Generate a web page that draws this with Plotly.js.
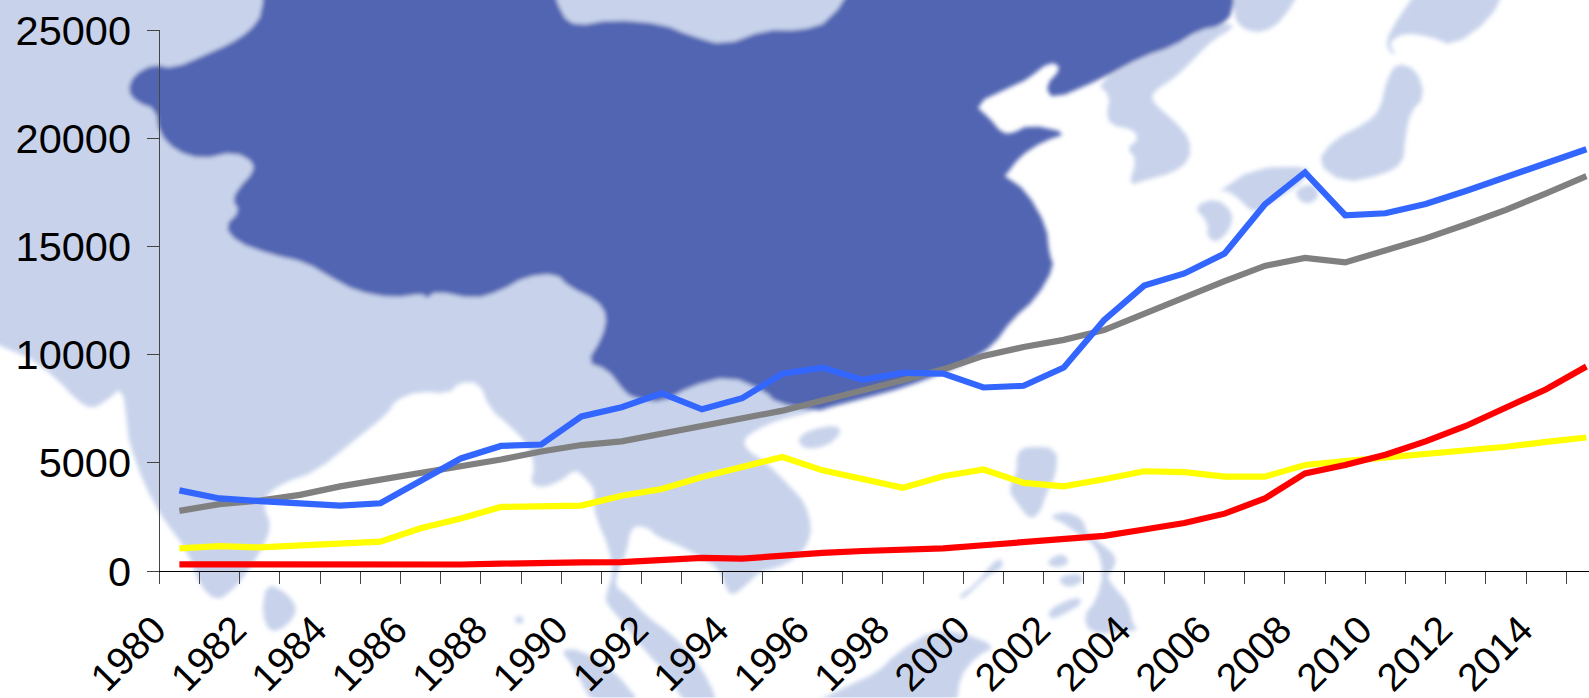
<!DOCTYPE html>
<html>
<head>
<meta charset="utf-8">
<script src="https://cdn.plot.ly/plotly-3.0.1.min.js"></script>
<style>html,body{margin:0;padding:0;background:#fff;overflow:hidden}#chart{width:1589px;height:698px}</style>
</head>
<body>
<div id="chart"></div>
<script>
var years = [1980,1981,1982,1983,1984,1985,1986,1987,1988,1989,1990,1991,1992,1993,1994,1995,1996,1997,1998,1999,2000,2001,2002,2003,2004,2005,2006,2007,2008,2009,2010,2011,2012,2013,2014,2015];
var blueValues = [3725,3354,3230,3150,3025,3128,4178,5200,5780,5845,7140,7570,8210,7470,7985,9120,9400,8830,9160,9120,8480,8560,9400,11590,13190,13750,14670,16940,18420,16440,16530,16960,17560,18210,18850,19490];
var grayValues = [2780,3090,3250,3520,3910,4220,4490,4790,5150,5520,5820,5990,6340,6690,7100,7410,7880,8335,8810,9320,9940,10350,10680,11130,11900,12660,13400,14100,14470,14260,14780,15370,16010,16690,17450,18250];
var yellowValues = [1050,1150,1090,1170,1255,1360,1975,2430,2960,2960,3025,3480,3790,4340,4800,5270,4650,4280,3850,4380,4690,4075,3910,4240,4610,4570,4360,4360,4900,5080,5250,5370,5540,5740,5970,6170];
var redValues = [310,300,285,290,305,300,290,300,340,400,395,410,490,610,570,740,840,925,990,1050,1190,1320,1440,1625,1915,2220,2650,3350,4510,4900,5370,5990,6700,7530,8400,9450];
var labelYears = [1980,1982,1984,1986,1988,1990,1992,1994,1996,1998,2000,2002,2004,2006,2008,2010,2012,2014];
var yTicks = [0,5000,10000,15000,20000,25000];

// Background map outlines, each traced in the frame of one crop of the picture
function L(s){return conv(s,0,0,0.5102,0.4452);}
function R(s){return conv(s,800,0,0.5033,0.4452);}
function A(s){return conv(s,800,400,1/3,1/3);}
function B(s){return conv(s,480,400,1/3,1/3);}
function C(s){return conv(s,1000,0,1/3,1/3);}
function D(s){return conv(s,0,440,1/3,1/3);}
function P(s){return conv(s,0,0,1,1);}
function conv(s,x0,y0,sx,sy){
  return s.trim().split(/\s+/).map(function(p){var a=p.split(",");return [x0+a[0]*sx,y0+a[1]*sy];});
}
var lightMain = [].concat(
  P("-100,-100 900,-100 900,300 817,408"),
  B("1000,35 900,60 830,90 790,120 800,150 860,190 930,260 975,310 995,380 985,430 950,475 890,505 840,515 795,560 755,590 735,560 720,510 650,465 590,435 530,410 505,385 470,378 450,395 440,460 415,510 405,560 440,585 500,650 570,700 640,770 690,850 715,920 620,920 560,820 500,760 430,670 378,610 378,585 400,520 385,440 350,360 340,310 345,270 310,230 285,210 240,245 185,265 150,250 165,200 140,130 80,70 30,30"),
  L("1010,970 960,920 940,860 900,860 880,885 820,880 775,900 760,930 700,985"),
  D("948,96 850,130 800,165 790,200 815,260 785,330 740,400 700,450 650,485 600,440 560,330 490,240 430,130 385,0"),
  L("250,960 240,870 210,900 180,920 150,900 110,850 40,790 -200,700")
);
var lightIslands = [
  D("800,430 860,460 895,510 860,560 810,580 785,520"),
  B("106,650 130,650 130,672 106,672"),
  B("240,750 300,750 400,810 490,920 340,920 280,800"),
  B("950,120 990,90 1070,75 1085,100 1040,140 975,150"),
  C("700,-60 920,-60 850,60 790,100 730,90 700,50"),
  C("690,70 620,80 530,135 430,170 290,250 330,290 320,340 330,375 400,390 415,420 380,445 410,480 385,560 440,540 520,520 570,480 570,420 530,370 460,310 455,280 530,230 580,180 640,120 700,85"),
  C("1190,190 1250,210 1275,290 1230,340 1215,420 1210,490 1150,525 1030,550 950,490 1000,420 1100,370 1140,330 1160,240"),
  C("650,580 760,505 930,500 915,540 860,580 810,610 760,640 730,610 680,570"),
  C("885,570 940,550 960,590 925,615 895,600"),
  C("580,620 650,595 700,640 690,690 650,730 620,710 625,670"),
  C("1260,-40 1520,-40 1470,60 1360,140 1290,110 1210,100 1165,130 1190,170 1160,150 1165,100"),
  A("650,160 680,140 770,145 770,220 740,280 720,340 690,360 650,310 625,270 650,220"),
  A("745,350 800,335 850,360 860,400 900,430 950,470 940,510 920,530 940,560 985,610 1000,680 1020,690 950,700 870,700 850,650 890,600 910,520 890,440 830,400 790,370"),
  A("745,480 790,460 810,490 770,505 745,495"),
  A("780,530 840,520 850,545 810,565 780,550"),
  A("745,630 830,590 850,610 780,650 750,660"),
  A("595,470 615,500 560,530 490,600 475,590 520,560"),
  A("20,920 140,860 230,820 290,760 400,690 490,700 590,740 530,770 480,830 470,920")
];
var darkChina = [].concat(
  L("515,-60 515,30 490,70 450,100 410,120 340,155 300,145 262,170 250,205 270,232 305,245 312,300 345,340 395,358 460,342 497,365 495,390 470,420 455,450 470,475 440,510 465,545 530,572 600,590 650,625 700,655 770,670 830,660 835,672 855,655 930,672 980,655 1030,622 1090,615 1115,645 1170,675 1190,710 1180,760 1150,815 1190,830 1220,875 1240,895 1300,905 1350,870 1430,845 1500,880 1520,905"),
  R("35,925 60,915 130,895 210,870 280,840 340,810 385,775 420,720 470,670 505,600 495,570 490,510 450,430 405,395"),
  C("15,530 60,470 130,425 205,400 90,375 30,405 0,395"),
  R("380,270 345,235 430,190"),
  C("80,240 150,185 185,205 135,260 160,300 300,240 430,170 520,140 600,90 660,80 700,40 700,-60"),
  R("120,-60 60,50 0,70"),
  L("1500,68 1420,103 1350,80 1300,55 1200,45 1130,60 1100,35 1075,-60")
);

var LIGHT = "#C8D3EB", DARK = "#5165B2";
function smooth(pts){
  var out=[], n=pts.length;
  for(var i=0;i<n;i++){
    var a=pts[i], b=pts[(i+1)%n];
    out.push([a[0]*0.75+b[0]*0.25,a[1]*0.75+b[1]*0.25]);
    out.push([a[0]*0.25+b[0]*0.75,a[1]*0.25+b[1]*0.75]);
  }
  return out;
}
function poly(pts, fill){
  var p = smooth(pts).map(function(q){return q[0].toFixed(1)+","+q[1].toFixed(1);}).join(" ");
  return '<polygon points="'+p+'" fill="'+fill+'"/>';
}
var svg = '<svg xmlns="http://www.w3.org/2000/svg" width="1589" height="698" viewBox="0 0 1589 698">'
 + '<defs><filter id="b" filterUnits="userSpaceOnUse" x="-50" y="-50" width="1700" height="800"><feGaussianBlur stdDeviation="2.1"/></filter></defs>'
 + '<rect width="1589" height="698" fill="#fff"/><g filter="url(#b)">'
 + poly(lightMain,LIGHT)
 + lightIslands.map(function(p){return poly(p,LIGHT);}).join('')
 + poly(darkChina,DARK)
 + '</g></svg>';
var mapSource = "data:image/svg+xml;charset=utf-8," + encodeURIComponent(svg);

// Plot area starts at the end of the y ticks; the y axis itself stands at the first category edge
var AXIS_X = 159.3, ML = 147, MT = 30.4, PW = 1589 - ML, PH = 541, yearPx = 40.2;
var xStart = 1979.5 - (AXIS_X - ML)/yearPx;
function line(vals, color, name){
  return {x: years, y: vals, name: name, type:"scatter", mode:"lines", cliponaxis:false,
          line:{color:color, width:6.2, shape:"linear"}, hoverinfo:"x+y"};
}
var boundaries = years.map(function(y){return y-0.5;});
var yFont = {family:'"Liberation Sans", Arial, sans-serif', size:41.5, color:"#000"};
var xFont = {family:'"Liberation Sans", Arial, sans-serif', size:39, color:"#000"};
Plotly.newPlot("chart", [
  line(grayValues,"#808080","gray"),
  line(yellowValues,"#FFFF00","yellow"),
  line(redValues,"#FF0000","red"),
  line(blueValues,"#3366FF","blue")
], {
  width:1589, height:698, showlegend:false,
  margin:{l:ML, r:0, t:MT, b:698-MT-PH, pad:0},
  paper_bgcolor:"#fff", plot_bgcolor:"rgba(0,0,0,0)",
  images:[{source:mapSource, xref:"paper", yref:"paper", x:-ML/PW, y:1+MT/PH, sizex:1589/PW, sizey:698/PH,
           xanchor:"left", yanchor:"top", sizing:"stretch", layer:"below"}],
  xaxis:{
    range:[xStart, xStart+PW/yearPx], fixedrange:true, showgrid:false, zeroline:false,
    showline:true, linecolor:"#000", linewidth:1,
    tickmode:"array", tickvals:labelYears.map(function(y){return y-0.62;}), ticktext:labelYears.map(String),
    ticks:"", tickangle:-45, tickfont:xFont, ticklabelstandoff:19, automargin:false,
    minor:{tickmode:"array", tickvals:boundaries, ticks:"outside", ticklen:12, tickwidth:1, tickcolor:"#444", showgrid:false}
  },
  yaxis:{
    range:[0,25000], fixedrange:true, showgrid:false, zeroline:false,
    anchor:"free", position:(AXIS_X-ML)/PW,
    showline:true, linecolor:"#444", linewidth:1,
    tickmode:"array", tickvals:yTicks, ticktext:yTicks.map(String),
    ticks:"outside", ticklen:12, tickwidth:1, tickcolor:"#444", tickfont:yFont, ticklabelstandoff:8, automargin:false
  }
}, {displayModeBar:false, staticPlot:true});
</script>
</body>
</html>
